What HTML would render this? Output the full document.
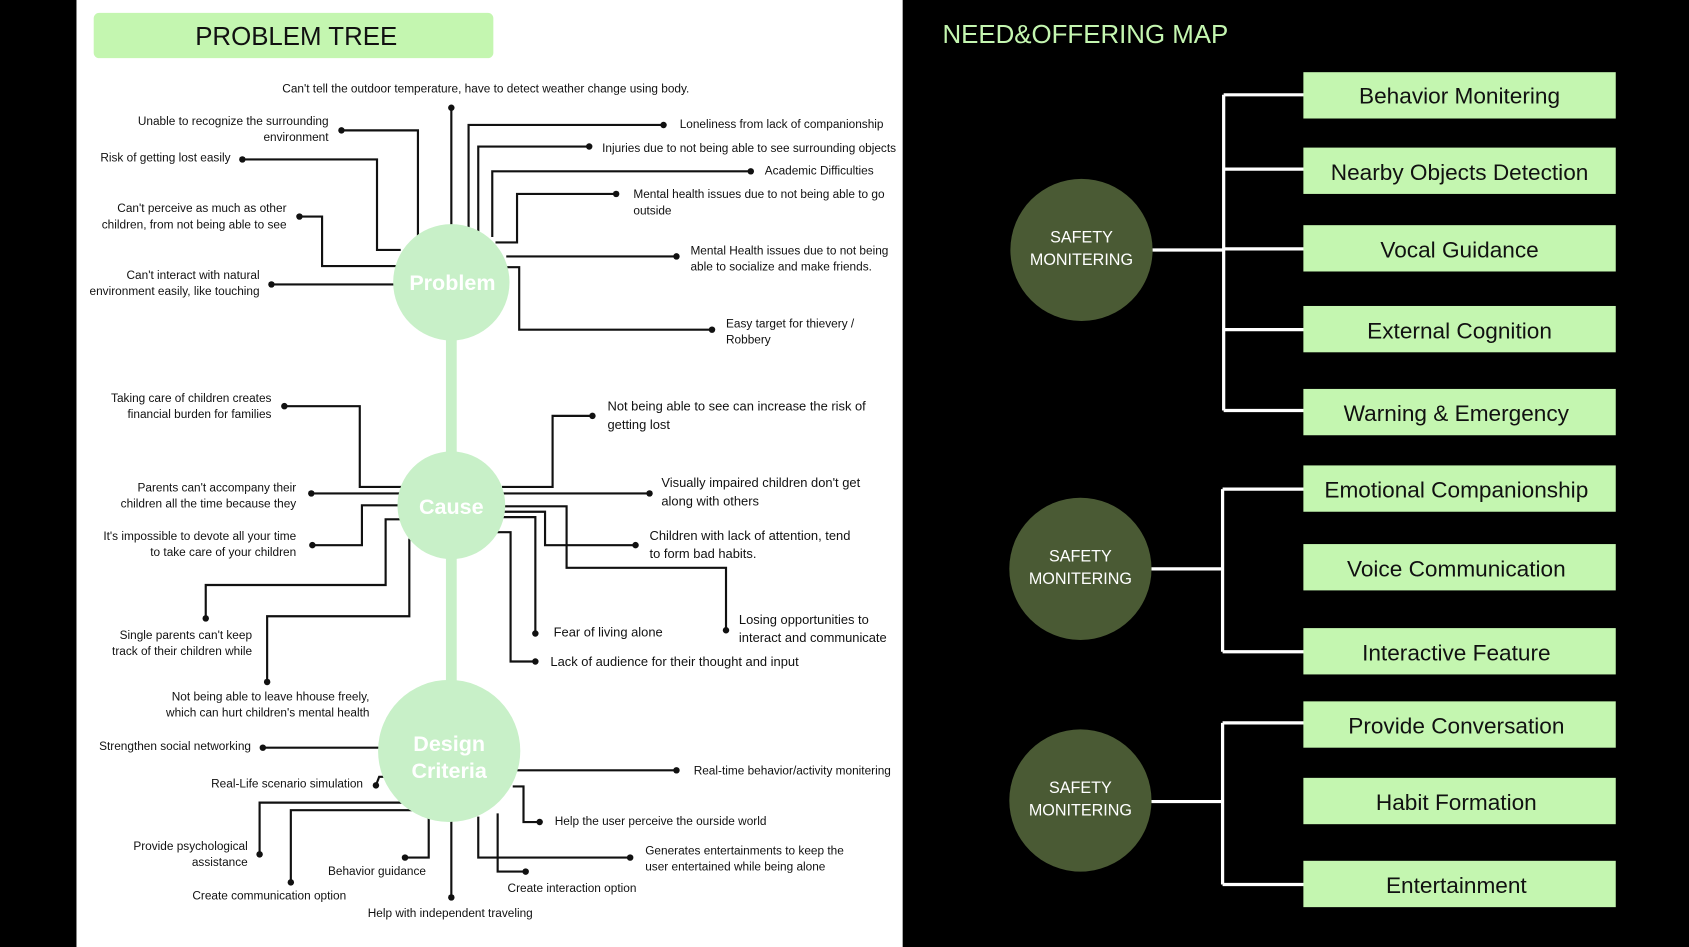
<!DOCTYPE html>
<html><head><meta charset="utf-8"><style>
html,body{margin:0;padding:0;background:#000;}
svg{display:block;}
text{font-family:"Liberation Sans",sans-serif;}
.s{font-size:11px;fill:#111;}
.b{font-size:21px;fill:#111;}
</style></head><body>
<svg width="1689" height="947" viewBox="0 0 1568 879" preserveAspectRatio="none" xmlns="http://www.w3.org/2000/svg">
<rect width="1568" height="879" fill="#000"/>
<rect x="71" y="0" width="767" height="879" fill="#fff"/>
<rect x="87" y="12" width="371" height="42" rx="5" fill="#c4f6b0"/>
<text x="275" y="42" text-anchor="middle" font-size="24" fill="#111">PROBLEM TREE</text>
<text x="875" y="40" font-size="24" fill="#c4f6b0">NEED&amp;OFFERING MAP</text>

<rect x="414" y="300" width="10" height="340" fill="#c8f0c8"/>

<g fill="none" stroke="#111" stroke-width="2">
<polyline points="419,100 419,210"/>
<polyline points="317,121 388,121 388,225"/>
<polyline points="225,148 350,148 350,232 372,232"/>
<polyline points="278,201 299,201 299,247 368,247"/>
<polyline points="252,264 368,264"/>
<polyline points="616,116 435,116 435,212"/>
<polyline points="547,136 444,136 444,215"/>
<polyline points="697,159 457,159 457,220"/>
<polyline points="572,180 480,180 480,225 460,225"/>
<polyline points="628,238 470,238"/>
<polyline points="661,306 482,306 482,248 468,248"/>

<polyline points="264,377 334,377 334,452 374,452"/>
<polyline points="289,458 372,458"/>
<polyline points="290,506 336,506 336,469 372,469"/>
<polyline points="191,574 191,543 358,543 358,482 372,482"/>
<polyline points="248,633 248,572 380,572 380,500"/>
<polyline points="550,386 513,386 513,452 466,452"/>
<polyline points="603,458 466,458"/>
<polyline points="590,506 506,506 506,475 466,475"/>
<polyline points="674,585 674,527 526,527 526,470 466,470"/>
<polyline points="497,588 497,480 466,480"/>
<polyline points="497,614 474,614 474,494 460,494"/>

<polyline points="244,694 356,694"/>
<polyline points="349,729 352,721 360,721"/>
<polyline points="241,793 241,745 372,745 372,738"/>
<polyline points="270,819 270,752 390,752 390,745"/>
<polyline points="376,796 398,796 398,758"/>
<polyline points="419,833 419,760"/>
<polyline points="488,809 462,809 462,755"/>
<polyline points="585,796 444,796 444,758"/>
<polyline points="501,763 486,763 486,730 476,730"/>
<polyline points="628,715 480,715"/>
</g>
<g fill="#111">
<circle cx="419" cy="100" r="3"/><circle cx="317" cy="121" r="3"/><circle cx="225" cy="148" r="3"/><circle cx="278" cy="201" r="3"/><circle cx="252" cy="264" r="3"/><circle cx="616" cy="116" r="3"/><circle cx="547" cy="136" r="3"/><circle cx="697" cy="159" r="3"/><circle cx="572" cy="180" r="3"/><circle cx="628" cy="238" r="3"/><circle cx="661" cy="306" r="3"/>
<circle cx="264" cy="377" r="3"/><circle cx="289" cy="458" r="3"/><circle cx="290" cy="506" r="3"/><circle cx="191" cy="574" r="3"/><circle cx="248" cy="633" r="3"/><circle cx="550" cy="386" r="3"/><circle cx="603" cy="458" r="3"/><circle cx="590" cy="506" r="3"/><circle cx="674" cy="585" r="3"/><circle cx="497" cy="588" r="3"/><circle cx="497" cy="614" r="3"/>
<circle cx="244" cy="694" r="3"/><circle cx="349" cy="729" r="3"/><circle cx="241" cy="793" r="3"/><circle cx="270" cy="819" r="3"/><circle cx="376" cy="796" r="3"/><circle cx="419" cy="833" r="3"/><circle cx="488" cy="809" r="3"/><circle cx="585" cy="796" r="3"/><circle cx="501" cy="763" r="3"/><circle cx="628" cy="715" r="3"/>
</g>

<circle cx="419" cy="262" r="54" fill="#c8f0c8"/>
<circle cx="419" cy="469" r="50" fill="#c8f0c8"/>
<circle cx="417" cy="697" r="66" fill="#c8f0c8"/>
<g fill="#fff" font-weight="bold" font-size="20" text-anchor="middle">
<text x="420" y="269">Problem</text>
<text x="419" y="477">Cause</text>
<text x="417" y="697">Design</text>
<text x="417" y="722">Criteria</text>
</g>

<g class="s">
<text x="451" y="86" text-anchor="middle">Can't tell the outdoor temperature, have to detect weather change using body.</text>
<g text-anchor="end">
<text x="305" y="116">Unable to recognize the surrounding</text><text x="305" y="131">environment</text>
<text x="214" y="150">Risk of getting lost easily</text>
<text x="266" y="197">Can't perceive as much as other</text><text x="266" y="212">children, from not being able to see</text>
<text x="241" y="259">Can't interact with natural</text><text x="241" y="274">environment easily, like touching</text>
<text x="252" y="373">Taking care of children creates</text><text x="252" y="388">financial burden for families</text>
<text x="275" y="456">Parents can't accompany their</text><text x="275" y="471">children all the time because they</text>
<text x="275" y="501">It's impossible to devote all your time</text><text x="275" y="516">to take care of your children</text>
<text x="234" y="593">Single parents can't keep</text><text x="234" y="608">track of their children while</text>
<text x="343" y="650">Not being able to leave hhouse freely,</text><text x="343" y="665">which can hurt children's mental health</text>
<text x="233" y="696">Strengthen social networking</text>
<text x="337" y="731">Real-Life scenario simulation</text>
<text x="230" y="789">Provide psychological</text><text x="230" y="804">assistance</text>
</g>
<text x="631" y="119">Loneliness from lack of companionship</text>
<text x="559" y="141">Injuries due to not being able to see surrounding objects</text>
<text x="710" y="162">Academic Difficulties</text>
<text x="588" y="184">Mental health issues due to not being able to go</text><text x="588" y="199">outside</text>
<text x="641" y="236">Mental Health issues due to not being</text><text x="641" y="251">able to socialize and make friends.</text>
<text x="674" y="304">Easy target for thievery /</text><text x="674" y="319">Robbery</text>
<text x="564" y="381" font-size="12">Not being able to see can increase the risk of</text><text x="564" y="398" font-size="12">getting lost</text>
<text x="614" y="452" font-size="12">Visually impaired children don't get</text><text x="614" y="469" font-size="12">along with others</text>
<text x="603" y="501" font-size="12">Children with lack of attention, tend</text><text x="603" y="518" font-size="12">to form bad habits.</text>
<text x="686" y="579" font-size="12">Losing opportunities to</text><text x="686" y="596" font-size="12">interact and communicate</text>
<text x="514" y="591" font-size="12">Fear of living alone</text>
<text x="511" y="618" font-size="12">Lack of audience for their thought and input</text>
<text x="644" y="719">Real-time behavior/activity monitering</text>
<text x="515" y="766">Help the user perceive the ourside world</text>
<text x="599" y="793">Generates entertainments to keep the</text><text x="599" y="808">user entertained while being alone</text>
<g text-anchor="middle">
<text x="531" y="828">Create interaction option</text>
<text x="350" y="812">Behavior guidance</text>
<text x="250" y="835">Create communication option</text>
<text x="418" y="851">Help with independent traveling</text>
</g>
</g>

<g fill="none" stroke="#fff" stroke-width="3">
<polyline points="1070,232 1136,232"/><polyline points="1136,88 1136,381"/>
<polyline points="1136,88 1212,88"/><polyline points="1136,157 1212,157"/><polyline points="1136,231 1212,231"/><polyline points="1136,306 1212,306"/><polyline points="1136,381 1212,381"/>
<polyline points="1069,528 1135,528"/><polyline points="1135,454 1135,605"/>
<polyline points="1135,454 1212,454"/><polyline points="1135,605 1212,605"/>
<polyline points="1069,744 1135,744"/><polyline points="1135,671 1135,821"/>
<polyline points="1135,671 1212,671"/><polyline points="1135,821 1212,821"/>
</g>
<g fill="#4a5a34">
<circle cx="1004" cy="232" r="66"/><circle cx="1003" cy="528" r="66"/><circle cx="1003" cy="743" r="66"/>
</g>
<g fill="#fff" font-size="15" text-anchor="middle">
<text x="1004" y="225">SAFETY</text><text x="1004" y="246">MONITERING</text>
<text x="1003" y="521">SAFETY</text><text x="1003" y="542">MONITERING</text>
<text x="1003" y="736">SAFETY</text><text x="1003" y="757">MONITERING</text>
</g>
<g fill="#c4f6b0">
<rect x="1210" y="67" width="290" height="43"/><rect x="1210" y="137" width="290" height="43"/><rect x="1210" y="209" width="290" height="43"/><rect x="1210" y="284" width="290" height="43"/><rect x="1210" y="361" width="290" height="43"/>
<rect x="1210" y="432" width="290" height="43"/><rect x="1210" y="505" width="290" height="43"/><rect x="1210" y="583" width="290" height="43"/>
<rect x="1210" y="651" width="290" height="43"/><rect x="1210" y="722" width="290" height="43"/><rect x="1210" y="799" width="290" height="43"/>
</g>
<g class="b" text-anchor="middle">
<text x="1355" y="96">Behavior Monitering</text>
<text x="1355" y="167">Nearby Objects Detection</text>
<text x="1355" y="239">Vocal Guidance</text>
<text x="1355" y="314">External Cognition</text>
<text x="1352" y="391">Warning &amp; Emergency</text>
<text x="1352" y="462">Emotional Companionship</text>
<text x="1352" y="535">Voice Communication</text>
<text x="1352" y="613">Interactive Feature</text>
<text x="1352" y="681">Provide Conversation</text>
<text x="1352" y="752">Habit Formation</text>
<text x="1352" y="829">Entertainment</text>
</g>
</svg>
</body></html>
